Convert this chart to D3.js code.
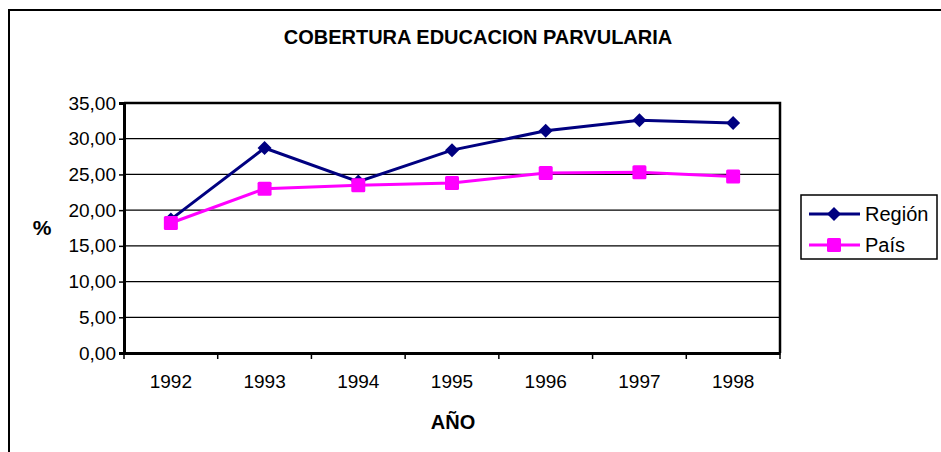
<!DOCTYPE html>
<html>
<head>
<meta charset="utf-8">
<script src="https://cdn.jsdelivr.net/npm/d3@7"></script>
<style>
  html, body { margin: 0; padding: 0; background: #fff; }
  svg { display: block; font-family: "Liberation Sans", Arial, sans-serif; }
</style>
</head>
<body>
<svg id="chart" width="941" height="452"></svg>
<script>
const years = ["1992", "1993", "1994", "1995", "1996", "1997", "1998"];
const region = [18.7, 28.7, 24.0, 28.4, 31.1, 32.6, 32.2];
const pais = [18.2, 23.0, 23.5, 23.8, 25.2, 25.3, 24.7];
const yTicks = [0, 5, 10, 15, 20, 25, 30, 35];
const seriesNames = ["Región", "País"];

const svg = d3.select("#chart");

// outer frame (extends beyond right/bottom edges)
svg.append("path")
  .attr("d", "M9,460 L9,10 L960,10")
  .attr("fill", "none").attr("stroke", "#000").attr("stroke-width", 2);

const plot = { left: 124, top: 103, right: 780, bottom: 353 };

const x = d3.scaleBand().domain(years).range([plot.left, plot.right]);
const y = d3.scaleLinear().domain([0, 35]).range([plot.bottom, plot.top]);

// gridlines
svg.append("g").selectAll("line").data(yTicks.filter(d => d > 0 && d < 35)).join("line")
  .attr("x1", plot.left).attr("x2", plot.right)
  .attr("y1", d => y(d)).attr("y2", d => y(d))
  .attr("stroke", "#000").attr("stroke-width", 1.2);

// plot border (top and right)
svg.append("path")
  .attr("d", `M${plot.left},${plot.top} L${plot.right},${plot.top} L${plot.right},${plot.bottom}`)
  .attr("fill", "none").attr("stroke", "#000").attr("stroke-width", 2.5);

// y axis
const fmt = d => d3.format(".2f")(d).replace(".", ",");
const yAxis = svg.append("g").attr("transform", `translate(${plot.left},0)`)
  .call(d3.axisLeft(y).tickValues(yTicks).tickFormat(fmt).tickSize(5).tickPadding(3));
yAxis.select(".domain").attr("stroke-width", 3);
yAxis.selectAll(".tick line").attr("stroke-width", 1.5);
yAxis.selectAll("text").attr("font-size", 19).attr("fill", "#000");

// x axis with ticks at category boundaries
const xAxis = svg.append("g").attr("transform", `translate(0,${plot.bottom})`)
  .call(d3.axisBottom(x).tickSize(0).tickPadding(22));
xAxis.select(".domain").attr("stroke-width", 3);
xAxis.selectAll("text").attr("font-size", 19).attr("fill", "#000");
const bounds = years.map(d => x(d)).concat([x(years[years.length - 1]) + x.bandwidth()]);
svg.append("g").selectAll("line").data(bounds).join("line")
  .attr("x1", d => d).attr("x2", d => d)
  .attr("y1", plot.bottom).attr("y2", plot.bottom + 6)
  .attr("stroke", "#000").attr("stroke-width", 1.5);

// title and axis labels
svg.append("text").attr("x", 478).attr("y", 44).attr("text-anchor", "middle")
  .attr("font-size", 20).attr("font-weight", "bold").text("COBERTURA EDUCACION PARVULARIA");
svg.append("text").attr("x", 453).attr("y", 429).attr("text-anchor", "middle")
  .attr("font-size", 20).attr("font-weight", "bold").text("AÑO");
svg.append("text").attr("x", 42).attr("y", 235).attr("text-anchor", "middle")
  .attr("font-size", 21).attr("font-weight", "bold").text("%");

const cx = d => x(d) + x.bandwidth() / 2;
const line = d3.line().x(d => cx(d[0])).y(d => y(d[1]));

const series = [
  { name: seriesNames[0], values: region, color: "#000080", shape: "diamond" },
  { name: seriesNames[1], values: pais, color: "#FF00FF", shape: "square" }
];

function marker(g, shape, color) {
  if (shape === "diamond") {
    g.append("path").attr("d", "M0,-7 L7,0 L0,7 L-7,0 Z").attr("fill", color);
  } else {
    g.append("rect").attr("x", -7).attr("y", -7).attr("width", 14).attr("height", 14)
      .attr("rx", 1.5).attr("fill", color);
  }
}

series.forEach(s => {
  const pts = years.map((yr, i) => [yr, s.values[i]]);
  svg.append("path").datum(pts).attr("d", line)
    .attr("fill", "none").attr("stroke", s.color).attr("stroke-width", 3);
  pts.forEach(p => {
    const g = svg.append("g").attr("transform", `translate(${cx(p[0])},${y(p[1])})`);
    marker(g, s.shape, s.color);
  });
});

// legend
const lg = svg.append("g");
lg.append("rect").attr("x", 801).attr("y", 195).attr("width", 136).attr("height", 64)
  .attr("fill", "#fff").attr("stroke", "#000").attr("stroke-width", 1.5);
series.forEach((s, i) => {
  const ly = 214 + i * 31;
  lg.append("line").attr("x1", 809).attr("x2", 860).attr("y1", ly).attr("y2", ly)
    .attr("stroke", s.color).attr("stroke-width", 3);
  const g = lg.append("g").attr("transform", `translate(834,${ly})`);
  marker(g, s.shape, s.color);
  lg.append("text").attr("x", 865).attr("y", ly + 7).attr("font-size", 20)
    .attr("fill", "#000").text(s.name);
});
</script>
</body>
</html>
